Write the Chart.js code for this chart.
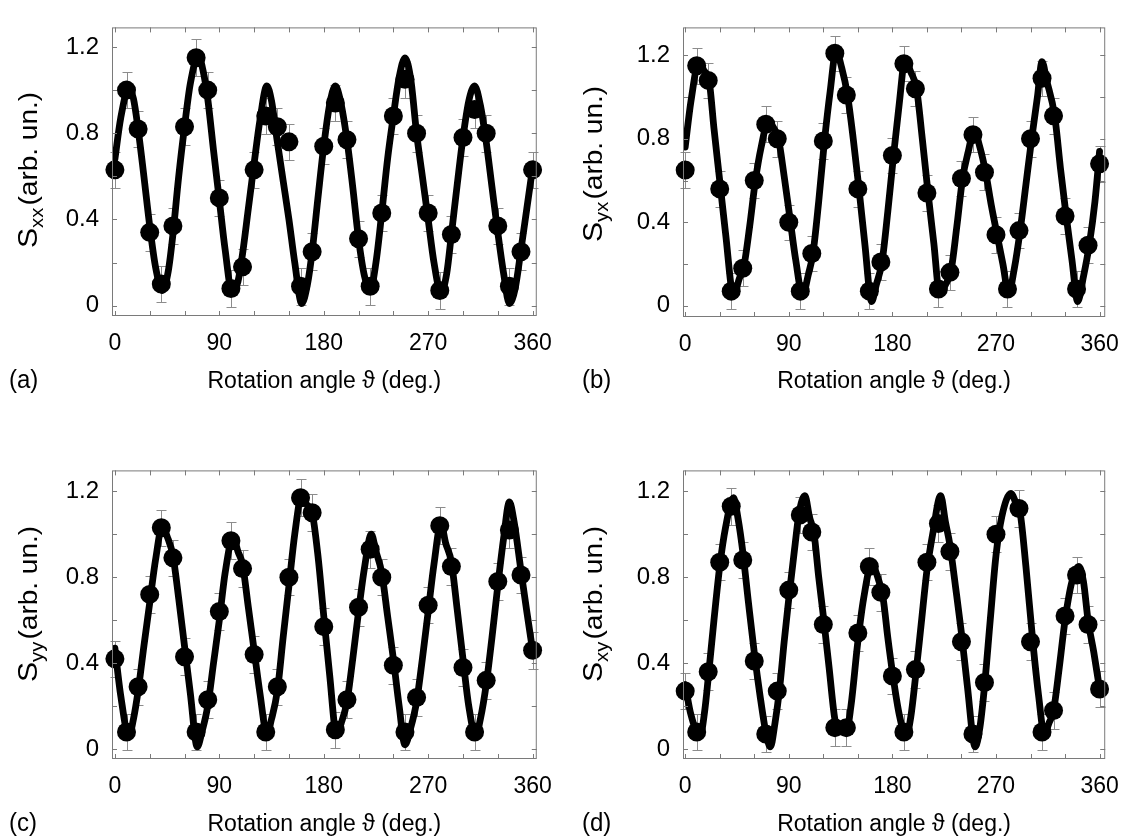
<!DOCTYPE html>
<html><head><meta charset="utf-8">
<script src="https://cdn.jsdelivr.net/npm/chart.js@4.4.1/dist/chart.umd.min.js"></script>
<style>
html,body{margin:0;padding:0;background:#fff;width:1133px;height:836px;overflow:hidden;}
canvas{position:absolute;}
</style></head><body>
<canvas id="ca" width="566" height="393" style="left:0;top:0"></canvas>
<canvas id="cb" width="567" height="393" style="left:566px;top:0"></canvas>
<canvas id="cc" width="566" height="393" style="left:0;top:443px"></canvas>
<canvas id="cd" width="567" height="393" style="left:566px;top:443px"></canvas>
<script>
// ---------- data ----------
const ANGLES = [0,10,20,30,40,50,60,70,80,90,100,110,120,130,140,150,160,170,180,190,200,210,220,230,240,250,260,270,280,290,300,310,320,330,340,350,360];

const S_XX = [0.63,1.00,0.82,0.34,0.10,0.37,0.83,1.15,1.00,0.50,0.08,0.18,0.63,0.88,0.83,0.76,0.09,0.25,0.74,0.94,0.77,0.31,0.09,0.43,0.88,1.05,0.80,0.43,0.07,0.33,0.78,0.91,0.80,0.37,0.09,0.25,0.63];
const S_YX = [0.65,1.15,1.08,0.56,0.07,0.18,0.60,0.87,0.80,0.40,0.07,0.25,0.79,1.21,1.01,0.56,0.07,0.21,0.72,1.16,1.04,0.54,0.08,0.16,0.61,0.82,0.64,0.34,0.08,0.36,0.80,1.09,0.91,0.43,0.08,0.29,0.68];
const S_YY = [0.42,0.08,0.29,0.72,1.03,0.89,0.43,0.08,0.23,0.64,0.97,0.84,0.44,0.08,0.29,0.80,1.17,1.10,0.57,0.09,0.23,0.66,0.93,0.80,0.39,0.08,0.24,0.67,1.04,0.85,0.38,0.08,0.32,0.78,1.02,0.81,0.46];
const S_XY = [0.27,0.08,0.36,0.87,1.13,0.88,0.41,0.07,0.27,0.74,1.09,1.01,0.58,0.10,0.10,0.54,0.85,0.73,0.34,0.08,0.37,0.87,1.05,0.92,0.50,0.07,0.31,1.00,null,1.12,0.50,0.08,0.18,0.62,0.81,0.58,0.28];
const ERR = 0.085;

const FIT_XX_ANG = [0,5,12,16,20,25,30,35,41,46,50,55,60,65,72,76,80,85,90,95,101,106,110,115,120,125,131,135,140,145,150,155,161,166,170,175,180,185,190,194,200,205,210,215,220,225,230,235,240,245,250,255,260,265,270,275,281,286,290,295,300,305,310,315,320,325,330,335,340,345,350,355,360];
const FIT_XX_VAL = [0.68,0.87,1.01,0.96,0.82,0.60,0.37,0.18,0.07,0.16,0.33,0.60,0.83,1.03,1.16,1.09,0.96,0.72,0.49,0.26,0.06,0.11,0.24,0.45,0.66,0.86,1.02,0.95,0.76,0.58,0.40,0.20,0.01,0.10,0.25,0.50,0.74,0.93,1.02,0.96,0.77,0.55,0.31,0.14,0.07,0.20,0.43,0.68,0.88,1.06,1.15,1.05,0.80,0.60,0.40,0.20,0.06,0.15,0.33,0.56,0.78,0.95,1.02,0.93,0.76,0.55,0.34,0.15,0.01,0.08,0.26,0.45,0.64];

const FIT_YX_ANG = [0,5,12,16,21,25,30,35,42,47,51,56,61,66,72,76,81,86,91,96,102,107,111,116,121,126,131,136,141,146,151,156,162,166,171,176,181,186,191,196,201,206,211,216,221,226,231,236,241,246,251,256,261,266,271,276,281,286,291,296,301,306,310,314,321,326,331,336,341,346,351,356,360];
const FIT_YX_VAL = [0.76,0.98,1.17,1.13,1.07,0.85,0.60,0.35,0.05,0.13,0.19,0.38,0.60,0.76,0.88,0.86,0.80,0.62,0.42,0.22,0.05,0.15,0.25,0.50,0.79,1.03,1.22,1.14,1.01,0.80,0.56,0.30,0.02,0.10,0.21,0.45,0.72,0.97,1.18,1.12,1.04,0.80,0.54,0.30,0.06,0.10,0.17,0.38,0.61,0.74,0.84,0.76,0.64,0.48,0.34,0.20,0.06,0.18,0.36,0.58,0.80,1.00,1.17,1.08,0.91,0.66,0.43,0.22,0.02,0.14,0.29,0.50,0.74];

const FIT_YY_ANG = [0,5,12,16,20,25,30,35,41,45,50,55,60,65,71,75,80,85,90,95,102,106,110,115,120,125,131,135,140,145,150,155,161,165,170,175,180,185,191,195,200,205,210,215,221,225,230,235,240,245,250,255,260,265,270,275,281,285,290,295,300,305,311,315,320,325,330,335,340,344,350,355,360];
const FIT_YY_VAL = [0.47,0.25,0.06,0.14,0.27,0.48,0.68,0.88,1.04,0.99,0.90,0.70,0.48,0.26,0.01,0.08,0.20,0.40,0.60,0.82,0.99,0.92,0.86,0.66,0.46,0.26,0.07,0.14,0.27,0.52,0.76,1.00,1.18,1.14,1.10,0.90,0.62,0.35,0.07,0.12,0.22,0.42,0.64,0.84,1.00,0.92,0.82,0.62,0.42,0.20,0.02,0.10,0.22,0.42,0.64,0.86,1.05,0.96,0.87,0.65,0.42,0.20,0.06,0.14,0.30,0.52,0.76,0.98,1.15,1.06,0.83,0.64,0.46];

const FIT_XY_ANG = [0,5,13,17,20,25,30,35,42,46,50,55,60,65,70,74,78,82,86,90,95,99,104,108,112,116,120,125,130,134,140,144,150,155,162,166,172,176,180,186,192,196,200,205,210,215,222,226,230,235,240,245,252,256,260,265,270,275,283,287,291,296,302,307,312,316,320,325,330,336,342,346,350,355,360];
const FIT_XY_VAL = [0.30,0.16,0.06,0.18,0.33,0.60,0.85,1.03,1.17,1.07,0.92,0.68,0.45,0.25,0.08,0.01,0.12,0.28,0.50,0.70,0.93,1.10,1.18,1.08,1.00,0.80,0.62,0.38,0.14,0.08,0.08,0.20,0.50,0.70,0.86,0.82,0.70,0.52,0.36,0.16,0.06,0.15,0.33,0.58,0.83,1.00,1.18,1.06,0.95,0.75,0.54,0.30,0.01,0.10,0.29,0.60,0.90,1.08,1.19,1.15,1.10,0.85,0.50,0.25,0.07,0.12,0.18,0.38,0.60,0.78,0.85,0.78,0.60,0.45,0.28];

const X_TICKS = [0,30,60,90,120,150,180,210,240,270,300,330,360];
const X_LABELS = [0,90,180,270,360];
const Y_TICKS = [0,0.2,0.4,0.6,0.8,1.0,1.2];
const Y_LABELS = [0,0.4,0.8,1.2];
const X_TITLE = 'Rotation angle \u03D1 (deg.)';
const Y_SUBS = ['xx','yx','yy','xy'];
const PANEL_LABELS = ['(a)','(b)','(c)','(d)'];

// ---------- layout ----------
const FONT = "'Liberation Sans', Arial, Helvetica, sans-serif";
Chart.defaults.font.family = FONT;
const panels = [
  {id:'ca', w:566, h:393, area:{l:112,t:7,r:544,b:316}, xr:[-2.5,363.6], yr:[-0.048,1.291], pts:S_XX, fa:FIT_XX_ANG, fv:FIT_XX_VAL, k:0, labelX:9, titleX:28, titleY:170},
  {id:'cb', w:567, h:393, area:{l:117,t:7,r:549,b:317}, xr:[-1.9,364.9], yr:[-0.054,1.334], pts:S_YX, fa:FIT_YX_ANG, fv:FIT_YX_VAL, k:1, labelX:16, titleX:27, titleY:164},
  {id:'cc', w:566, h:393, area:{l:112,t:1,r:544,b:316}, xr:[-2.5,363.6], yr:[-0.046,1.297], pts:S_YY, fa:FIT_YY_ANG, fv:FIT_YY_VAL, k:2, labelX:9, titleX:28, titleY:161},
  {id:'cd', w:567, h:393, area:{l:117,t:1,r:549,b:316}, xr:[-1.9,364.9], yr:[-0.046,1.297], pts:S_XY, fa:FIT_XY_ANG, fv:FIT_XY_VAL, k:3, labelX:16, titleX:27, titleY:161}
];

function makeDecor(p){
  return {
    id:'decor'+p.k,
    beforeDatasetsDraw(chart){
      const {ctx, scales:{x, y}} = chart;
      ctx.save();
      ctx.strokeStyle = '#8c8c8c'; ctx.lineWidth = 1;
      ctx.beginPath();
      ANGLES.forEach((a,i)=>{
        const v = p.pts[i]; if (v == null) return;
        const px = Math.round(x.getPixelForValue(a)) + 0.5;
        const t = Math.round(y.getPixelForValue(v + ERR)) + 0.5;
        const b = Math.round(y.getPixelForValue(v - ERR)) + 0.5;
        ctx.moveTo(px, t); ctx.lineTo(px, b);
        ctx.moveTo(px - 5, t); ctx.lineTo(px + 5, t);
        ctx.moveTo(px - 5, b); ctx.lineTo(px + 5, b);
      });
      ctx.stroke();
      ctx.restore();
    },
    afterDraw(chart){
      const {ctx, chartArea:ca, scales:{x, y}} = chart;
      ctx.save();
      ctx.strokeStyle = '#7a7a7a'; ctx.lineWidth = 1;
      ctx.strokeRect(ca.left + 0.5, ca.top + 0.5, ca.right - ca.left - 1, ca.bottom - ca.top - 1);
      ctx.beginPath();
      X_TICKS.forEach(v=>{
        const px = Math.round(x.getPixelForValue(v)) + 0.5;
        ctx.moveTo(px, ca.bottom); ctx.lineTo(px, ca.bottom - 5);
        ctx.moveTo(px, ca.top); ctx.lineTo(px, ca.top + 5);
      });
      Y_TICKS.forEach(v=>{
        const py = Math.round(y.getPixelForValue(v)) + 0.5;
        ctx.moveTo(ca.left, py); ctx.lineTo(ca.left + 5, py);
        ctx.moveTo(ca.right, py); ctx.lineTo(ca.right - 5, py);
      });
      ctx.stroke();
      // y title with subscript (stretched along its length like the original)
      ctx.fillStyle = '#000';
      ctx.translate(p.titleX, p.titleY);
      ctx.rotate(-Math.PI/2);
      ctx.scale(1.12, 1);
      ctx.textBaseline = 'alphabetic';
      const bigS = '27px ' + FONT, big = '25px ' + FONT, small = '18px ' + FONT;
      ctx.font = bigS; const wS = ctx.measureText('S').width;
      const rest = '(arb. un.)';
      ctx.font = big; const wR = ctx.measureText(rest).width;
      ctx.font = small; const wSub = ctx.measureText(Y_SUBS[p.k]).width;
      const total = wS + wSub + 2 + wR;
      const x0 = -total/2;
      const base = 9;
      ctx.font = bigS; ctx.fillText('S', x0, base);
      ctx.font = small; ctx.fillText(Y_SUBS[p.k], x0 + wS, base + 6);
      ctx.font = big; ctx.fillText(rest, x0 + wS + wSub + 2, base);
      ctx.setTransform(1,0,0,1,0,0);
      // panel label
      ctx.font = '24px ' + FONT; ctx.textBaseline = 'middle'; ctx.textAlign = 'left';
      ctx.translate(p.labelX, 381); ctx.scale(1, 1.1);
      ctx.fillText(PANEL_LABELS[p.k], 0, 0);
      ctx.restore();
    }
  };
}

panels.forEach(p=>{
  const a = p.area;
  new Chart(document.getElementById(p.id), {
    data: {
      datasets: [
        {type:'scatter', data: ANGLES.map((ang,i)=>({x:ang, y:p.pts[i]})).filter(d=>d.y != null),
         backgroundColor:'#000', borderColor:'#000', pointRadius:9.5, pointHoverRadius:9.5, borderWidth:0, clip:false, order:1},
        {type:'line', data: p.fa.map((ang,i)=>({x:ang, y:p.fv[i]})),
         borderColor:'#000', borderWidth:6.8, pointRadius:0, fill:false, cubicInterpolationMode:'monotone', borderJoinStyle:'round', borderCapStyle:'round', order:2}
      ]
    },
    options: {
      responsive:false, animation:false, events:[],
      layout:{padding:{left:0, top:a.t, right:p.w - a.r, bottom:0}},
      plugins:{legend:{display:false}, tooltip:{enabled:false}},
      scales:{
        x:{type:'linear', position:'bottom', min:p.xr[0], max:p.xr[1],
           afterFit:s=>{ s.height = p.h - a.b; },
           afterBuildTicks:s=>{ s.ticks = X_TICKS.map(v=>({value:v})); },
           ticks:{autoSkip:false, maxRotation:0, padding:14, color:'#000', font:{size:23},
                  callback:v=> X_LABELS.includes(Math.round(v)) ? String(Math.round(v)) : ''},
           grid:{display:false, drawTicks:false}, border:{display:false},
           title:{display:true, text:X_TITLE, color:'#000', font:{size:23, lineHeight:1}, padding:{top:0, bottom:0}}
        },
        y:{type:'linear', position:'left', min:p.yr[0], max:p.yr[1],
           afterFit:s=>{ s.width = a.l; },
           afterBuildTicks:s=>{ s.ticks = Y_TICKS.map(v=>({value:v})); },
           ticks:{autoSkip:false, padding:13, color:'#000', font:{size:24},
                  callback:v=>{ const r = Math.round(v*10)/10; return Y_LABELS.includes(r) ? String(r) : ''; }},
           grid:{display:false, drawTicks:false}, border:{display:false}
        }
      }
    },
    plugins:[makeDecor(p)]
  });
});
</script>
</body></html>
